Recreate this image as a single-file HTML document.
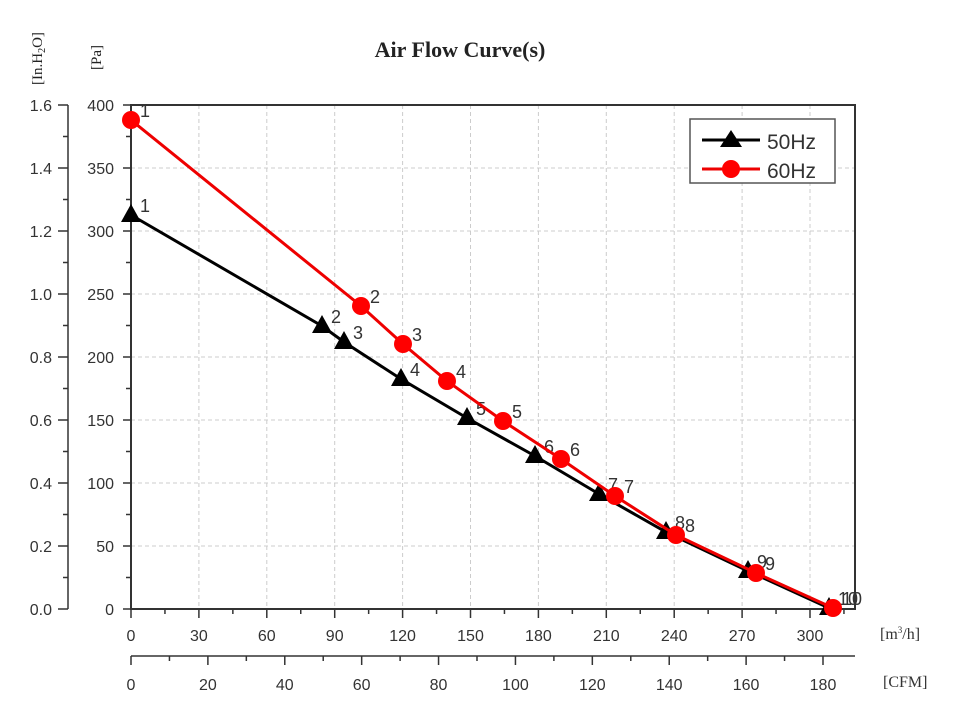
<!DOCTYPE html>
<html><head><meta charset="utf-8"><style>
html,body{margin:0;padding:0;background:#fff;width:955px;height:710px;overflow:hidden}
svg text{font-family:"Liberation Sans",sans-serif;fill:#333}
</style></head><body>
<svg id="s" width="955" height="710" xmlns="http://www.w3.org/2000/svg">
<text x="460" y="57" text-anchor="middle" style="font-family:'Liberation Serif',serif;font-weight:bold;font-size:22px;fill:#222">Air Flow Curve(s)</text>
<text transform="translate(42,85) rotate(-90)" style="font-family:'Liberation Serif',serif;font-size:15px;fill:#222">[In.H<tspan dy="3" font-size="10">2</tspan><tspan dy="-3">O]</tspan></text>
<text transform="translate(101,70) rotate(-90)" style="font-family:'Liberation Serif',serif;font-size:15px;fill:#222">[Pa]</text>
<text x="880" y="639" style="font-family:'Liberation Serif',serif;font-size:16px;fill:#333">[m<tspan dy="-6" font-size="9">3</tspan><tspan dy="6">/h]</tspan></text>
<text x="883" y="687" style="font-family:'Liberation Serif',serif;font-size:16px;fill:#333">[CFM]</text>
</svg>
<script>
var s=document.getElementById('s'),NS='http://www.w3.org/2000/svg';
function el(t,a,txt){var e=document.createElementNS(NS,t);for(var k in a)e.setAttribute(k,a[k]);if(txt!=null)e.textContent=txt;s.appendChild(e);return e;}
var L=131,R=855,T=105,B=609;
function X(v){return L+v*(810-131)/300;}
function Y(v){return B-v*(B-T)/400;}
for(var v=30;v<=300;v+=30)el('line',{x1:X(v),x2:X(v),y1:T,y2:B,stroke:'#ccc','stroke-dasharray':'4,3','stroke-width':1});
for(var v=50;v<400;v+=50)el('line',{x1:L,x2:R,y1:Y(v),y2:Y(v),stroke:'#ccc','stroke-dasharray':'4,3','stroke-width':1});
el('rect',{x:L,y:T,width:R-L,height:B-T,fill:'none',stroke:'#333','stroke-width':2});
for(var v=0;v<=400;v+=25){var y=Y(v),maj=v%50==0;el('line',{x1:L-(maj?8:5),x2:L,y1:y,y2:y,stroke:'#333','stroke-width':1.5});
 if(maj)el('text',{x:114,y:y+6,'text-anchor':'end','font-size':16},v);}
el('line',{x1:68,x2:68,y1:T,y2:B,stroke:'#333','stroke-width':1.5});
for(var i=0;i<=16;i++){var y=B-i*(B-T)/16,maj=i%2==0;el('line',{x1:maj?58:63,x2:68,y1:y,y2:y,stroke:'#333','stroke-width':1.5});
 if(maj)el('text',{x:52,y:y+6,'text-anchor':'end','font-size':16},(i/10).toFixed(1));}
for(var v=0;v<=315;v+=15){var x=X(v),maj=v%30==0;el('line',{x1:x,x2:x,y1:B,y2:B+(maj?9:5),stroke:'#333','stroke-width':1.5});
 if(maj)el('text',{x:x,y:641,'text-anchor':'middle','font-size':16},v);}
el('line',{x1:L,x2:R,y1:656,y2:656,stroke:'#333','stroke-width':1.5});
function C(v){return 131+v*(823-131)/180;}
for(var v=0;v<=185;v+=10){var x=C(v),maj=v%20==0;el('line',{x1:x,x2:x,y1:656,y2:656+(maj?9:5),stroke:'#333','stroke-width':1.5});
 if(maj)el('text',{x:x,y:690,'text-anchor':'middle','font-size':16},v);}
var blk=[[131,215],[322,326],[344,342],[401,379],[467,418],[535,456],[599,494],[666,532],[748,571],[829,608]];
var red=[[131,120],[361,306],[403,344],[447,381],[503,421],[561,459],[615,496],[676,535],[756,573],[833,608]];
function series(p,c,tri){el('polyline',{points:p.map(function(q){return q.join(',')}).join(' '),fill:'none',stroke:c,'stroke-width':3});
 p.forEach(function(q,i){if(tri)el('polygon',{points:(q[0]-10)+','+(q[1]+7)+' '+(q[0]+10)+','+(q[1]+7)+' '+q[0]+','+(q[1]-11),fill:'#000'});
 else el('circle',{cx:q[0],cy:q[1],r:9,fill:'#f00'});
 el('text',{x:q[0]+9,y:q[1]-3,'font-size':18},i+1);});}
series(blk,'#000',true);series(red,'#e00',false);
el('rect',{x:690,y:119,width:145,height:64,fill:'#fff',stroke:'#555','stroke-width':1.5});
el('line',{x1:702,x2:760,y1:140,y2:140,stroke:'#000','stroke-width':3});
el('polygon',{points:'720,147 742,147 731,130',fill:'#000'});
el('text',{x:767,y:149,'font-size':21},'50Hz');
el('line',{x1:702,x2:760,y1:169,y2:169,stroke:'#e00','stroke-width':3});
el('circle',{cx:731,cy:169,r:9,fill:'#f00'});
el('text',{x:767,y:178,'font-size':21},'60Hz');
</script>
</body></html>
